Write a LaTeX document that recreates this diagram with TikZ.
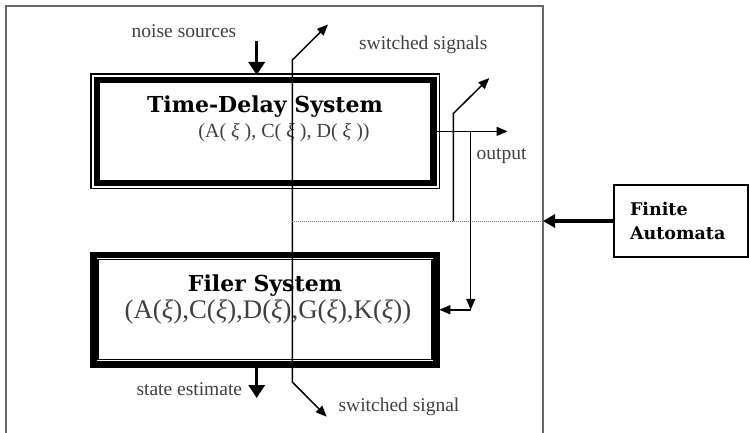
\documentclass[tikz,border=0pt]{standalone}
\usepackage{fontspec}
\setmainfont{Liberation Serif}
\newfontfamily\headfont{DejaVu Serif}
\usetikzlibrary{arrows.meta}

\tikzset{
  lbl/.style={text=black!75, font=\fontsize{19.5}{22}\selectfont, inner sep=0pt, anchor=base},
  head/.style={font=\headfont\bfseries\fontsize{22}{26}\selectfont, inner sep=0pt, anchor=base},
  params/.style={text=black!75, inner sep=0pt, anchor=base},
  sysbox/.style={draw, line width=6.5pt, outer sep=0pt, inner sep=0pt},
  fat/.style={line width=3.5pt, -{Triangle[length=13pt,width=16pt]}},
}

\begin{document}
\begin{tikzpicture}[x=1pt, y=-1pt, line width=1.5pt, >={Triangle[length=11pt,width=9pt]}]
    \useasboundingbox (0,0) rectangle (749,433);
    % frame round the switched system, open at the bottom
    \draw[black!60] (6,433) -- (6,6) -- (543,6) -- (543,433);

    % the two systems
    \node[sysbox, minimum width=336.9pt, minimum height=103.1pt] (tds) at (265.25,131.35) {};
    \draw[line width=1.2pt] ([shift={(-5.8,-5.8)}]tds.north west) rectangle ([shift={(5.8,5.8)}]tds.south east);
    \node[head] (tdstitle) at (265,112.3) {Time-Delay System};
    \node[params, font=\fontsize{20}{24}\selectfont] (tdspar) at (284,137.5)
        {(A( \textit{ξ} ), C( \textit{ξ} ), D( \textit{ξ} ))};

    \node[sysbox, minimum width=343.4pt, minimum height=109.5pt] (filer) at (265,309.75) {};
    \draw[line width=1.2pt] ([shift={(4.7,4.7)}]filer.north west) rectangle ([shift={(-4.7,-4.7)}]filer.south east);
    \node[head] (filertitle) at (265,291) {Filer System};
    \node[params, font=\fontsize{26.8}{30}\selectfont] (filerpar) at (268,318.3)
        {(A(\textit{ξ}),C(\textit{ξ}),D(\textit{ξ}),G(\textit{ξ}),K(\textit{ξ}))};

    % automaton outside the frame
    \node[draw, line width=1.5pt, minimum width=134pt, minimum height=72pt, inner xsep=16pt,
          text width=102pt, align=left, font=\headfont\bfseries\fontsize{17.5}{24.3}\selectfont]
        (fa) at (681,221) {Finite\\Automata};

    % labels
    \node[lbl] (noise) at (184,37.7) {noise sources};
    \node[lbl] (swsigs) at (423.3,50) {switched signals};
    \node[lbl] (outlbl) at (501.5,159.3) {output};
    \node[lbl] (estlbl) at (189.3,395) {state estimate};
    \node[lbl] (swsig) at (399,411.7) {switched signal};

    % free ends of the connectors
    \coordinate (noisetop) at (256.7,41.5);
    \coordinate (estend) at (256.7,398);
    \coordinate (swtip) at (328,24.5);
    \coordinate (swup) at (292.3,60);
    \coordinate (swdown) at (292.3,382);
    \coordinate (swend) at (326.7,416.7);
    \coordinate (fain) at (543,221);
    \coordinate (outend) at (507.5,131.7);
    \coordinate (brtop) at (453.3,113.5);
    \coordinate (brtip) at (489.3,78);
    \coordinate (fb) at (470.7,309.75);

    % noise in, estimate out
    \draw[fat, shorten >=4.8pt] (noisetop) -- (noisetop |- tds.north);
    \draw[fat] (estend |- filer.south) -- (estend);

    % switching signal line through both systems
    \draw[<->] (swtip) -- (swup) -- (swdown) -- (swend);
    \draw[black!55, line width=1pt, densely dotted] (fain -| swup) -- (fain);
    \draw[line width=4pt, -{Triangle[length=12pt,width=13pt]}] (fa.west) -- (fain);

    % output and its branches
    \draw[->] (tds.east) -- (outend |- tds.east);
    \draw[->] (brtop |- fain) -- (brtop) -- (brtip);
    \draw[->] (fb |- tds.east) -- (fb);
    \draw[->, shorten >=2.6pt] (fb) -- (filer.east);
\end{tikzpicture}
\end{document}
